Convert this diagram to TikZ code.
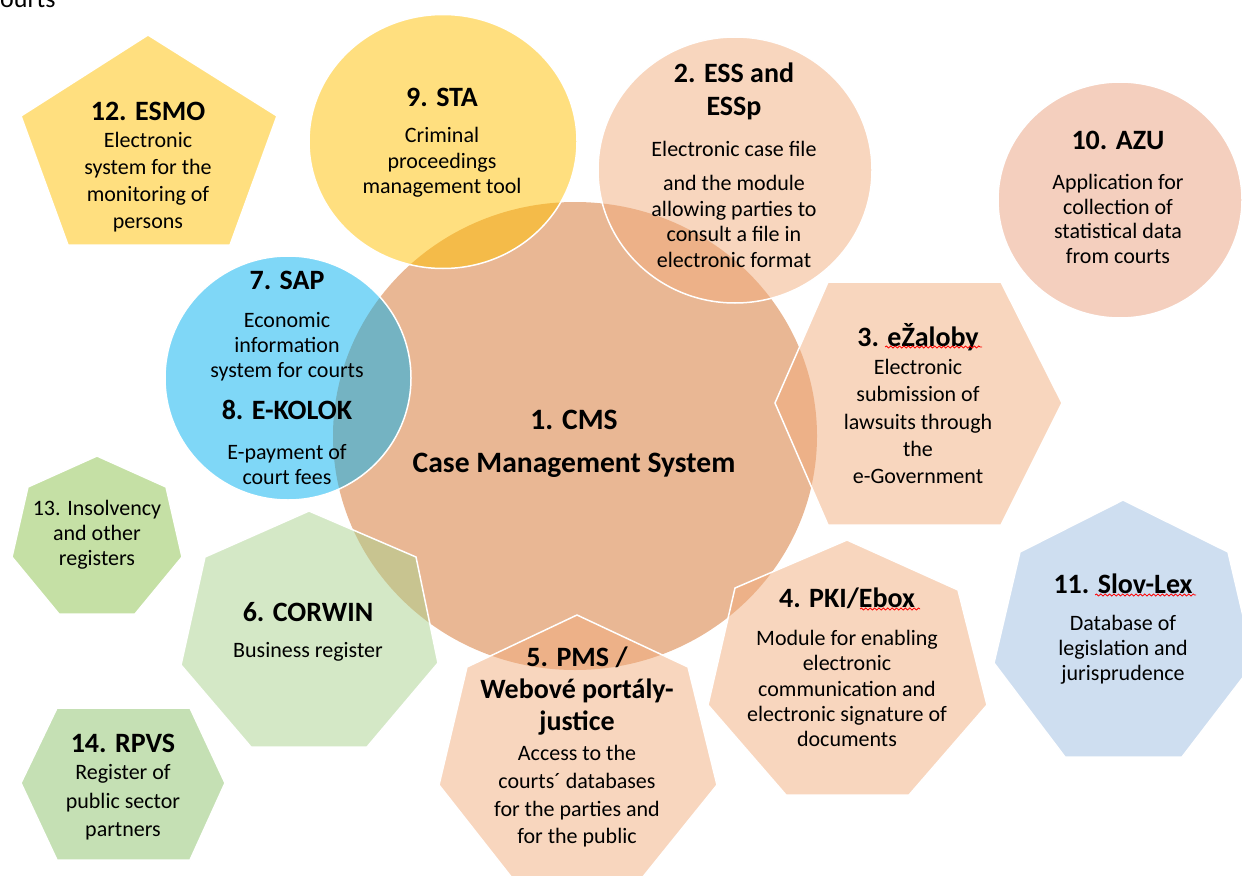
\documentclass[tikz,border=0pt]{standalone}
\usepackage{fontspec}
\setmainfont{Carlito}
\usetikzlibrary{decorations.pathmorphing}
\definecolor{cmsc}{RGB}{233,183,148}
\definecolor{peachc}{RGB}{241,173,125}
\definecolor{goldc}{RGB}{255,192,0}
\definecolor{bluec}{RGB}{0,176,240}
\definecolor{greenc}{RGB}{169,209,142}
\definecolor{azuc}{RGB}{244,207,190}
\definecolor{insc}{RGB}{197,224,165}
\definecolor{rpvsc}{RGB}{197,224,180}
\definecolor{slovc}{RGB}{206,222,240}
\tikzset{
  blob/.style={draw=white, line width=0.75pt, fill opacity=0.5},
  solid blob/.style={draw=white, line width=0.75pt},
  ttl/.style={font=\fontsize{14}{#1}\selectfont\bfseries, align=center, inner sep=0pt},
  ttl/.default=17,
  txt/.style={font=\fontsize{11}{#1}\selectfont, align=center, inner sep=0pt},
  txt/.default=13,
  squiggle/.style={draw=red, line width=0.4pt, decorate, decoration={snake, amplitude=0.5pt, segment length=2.2pt}}
}
\begin{document}
\begin{tikzpicture}[x=0.5pt, y=0.5pt]
\useasboundingbox (0, 0) rectangle (1242, 875);
\node[txt, font=\fontsize{13}{15}\selectfont, anchor=base west] (caption) at (-11, 867) {courts};
\fill[cmsc] (575, 439) ellipse [x radius=242, y radius=234];
\filldraw[blob, fill=goldc] (443, 733.5) ellipse [x radius=134, y radius=127];
\filldraw[blob, fill=peachc] (735, 705) ellipse [x radius=137, y radius=133];
\filldraw[solid blob, fill=azuc] (1120, 675) ellipse [x radius=122, y radius=118];
\filldraw[blob, fill=bluec] (288, 497) ellipse [x radius=123, y radius=122];
\filldraw[blob, fill=goldc] (148, 840) -- (277, 759) -- (230, 630) -- (68, 630) -- (21, 759) -- cycle;
\filldraw[blob, fill=peachc] (828, 593) -- (1001, 593) -- (1062, 472) -- (1001, 350) -- (828, 350) -- (775, 472) -- cycle;
\filldraw[solid blob, fill=insc] (97, 419) -- (166, 388) -- (182, 318) -- (135, 261) -- (59, 261) -- (12, 318) -- (28, 388) -- cycle;
\filldraw[blob, fill=greenc] (309, 364) -- (416, 318) -- (438, 212) -- (367, 128) -- (251, 128) -- (181, 210) -- (205, 318) -- cycle;
\filldraw[solid blob, fill=slovc] (1123, 375) -- (1228, 323) -- (1254, 212) -- (1182, 118) -- (1065, 118) -- (994, 212) -- (1020, 323) -- cycle;
\filldraw[solid blob, fill=rpvsc] (57, 167) -- (190, 167) -- (225, 92) -- (190, 15) -- (57, 15) -- (21, 92) -- cycle;
\filldraw[blob, fill=peachc] (577, 260) -- (688, 208) -- (717, 90) -- (638, -8) -- (516, -8) -- (439, 90) -- (467, 208) -- cycle;
\filldraw[blob, fill=peachc] (847, 335) -- (958, 285) -- (987, 170) -- (909, 80) -- (786, 80) -- (708, 170) -- (735, 287) -- cycle;
\node[ttl, font=\fontsize{14.8}{17}\selectfont\bfseries] (cmstitle) at (574, 455) {1. CMS};
\node[ttl, font=\fontsize{14.8}{17}\selectfont\bfseries] (cmsname) at (574, 410) {Case Management System};
\node[ttl] (esmotitle) at (148, 764) {12. ESMO};
\node[txt=13.5] (esmobody) at (148, 692.5) {Electronic\\system for the\\monitoring of\\persons};
\node[ttl] (statitle) at (442, 778) {9. STA};
\node[txt=12.75] (stabody) at (442, 712.5) {Criminal\\proceedings\\management tool};
\node[ttl=16.5] (esstitle) at (734, 783.5) {2. ESS and\\ESSp};
\node[txt=12.85] (essbody) at (734, 670.5) {Electronic case file\\[4pt]and the module\\allowing parties to\\consult a file in\\electronic format};
\node[ttl] (azutitle) at (1118, 735) {10. AZU};
\node[txt=12.35] (azubody) at (1118, 656) {Application for\\collection of\\statistical data\\from courts};
\node[ttl] (saptitle) at (287, 595) {7. SAP};
\node[txt=12.5] (sapbody) at (287, 528) {Economic\\information\\system for courts};
\node[ttl] (kolotitle) at (287, 465) {8. E-KOLOK};
\node[txt=12.5] (kolobody) at (287, 410.5) {E-payment of\\court fees};
\node[ttl] (zaltitle) at (918, 538) {3. eŽaloby};
\node[txt=13.6] (zalbody) at (918, 453.5) {Electronic\\submission of\\lawsuits through\\the\\e-Government};
\node[txt=12.5] (insolv) at (97, 340) {13. Insolvency\\and other\\registers};
\node[ttl] (corwintitle) at (308, 263) {6. CORWIN};
\node[txt] (corwinbody) at (308, 223) {Business register};
\node[ttl] (rpvstitle) at (123, 132) {14. RPVS};
\node[txt=14.2] (rpvsbody) at (123, 72.5) {Register of\\public sector\\partners};
\node[ttl] (slovtitle) at (1123, 291) {11. Slov-Lex};
\node[txt=12.5] (slovbody) at (1123, 225) {Database of\\legislation and\\jurisprudence};
\node[ttl=16] (pmstitle) at (577, 184) {5. PMS /\\Webové portály-\\justice};
\node[txt=13.8] (pmsbody) at (577, 78.5) {Access to the\\courts´ databases\\for the parties and\\for the public};
\node[ttl] (pkititle) at (847, 277) {4. PKI/Ebox};
\node[txt=12.6] (pkibody) at (847, 186.5) {Module for enabling\\electronic\\communication and\\electronic signature of\\documents};
\draw[squiggle] (885, 528) -- (982, 528);
\draw[squiggle] (1095, 280) -- (1196, 280);
\draw[squiggle] (860, 266) -- (920, 266);
\end{tikzpicture}
\end{document}
